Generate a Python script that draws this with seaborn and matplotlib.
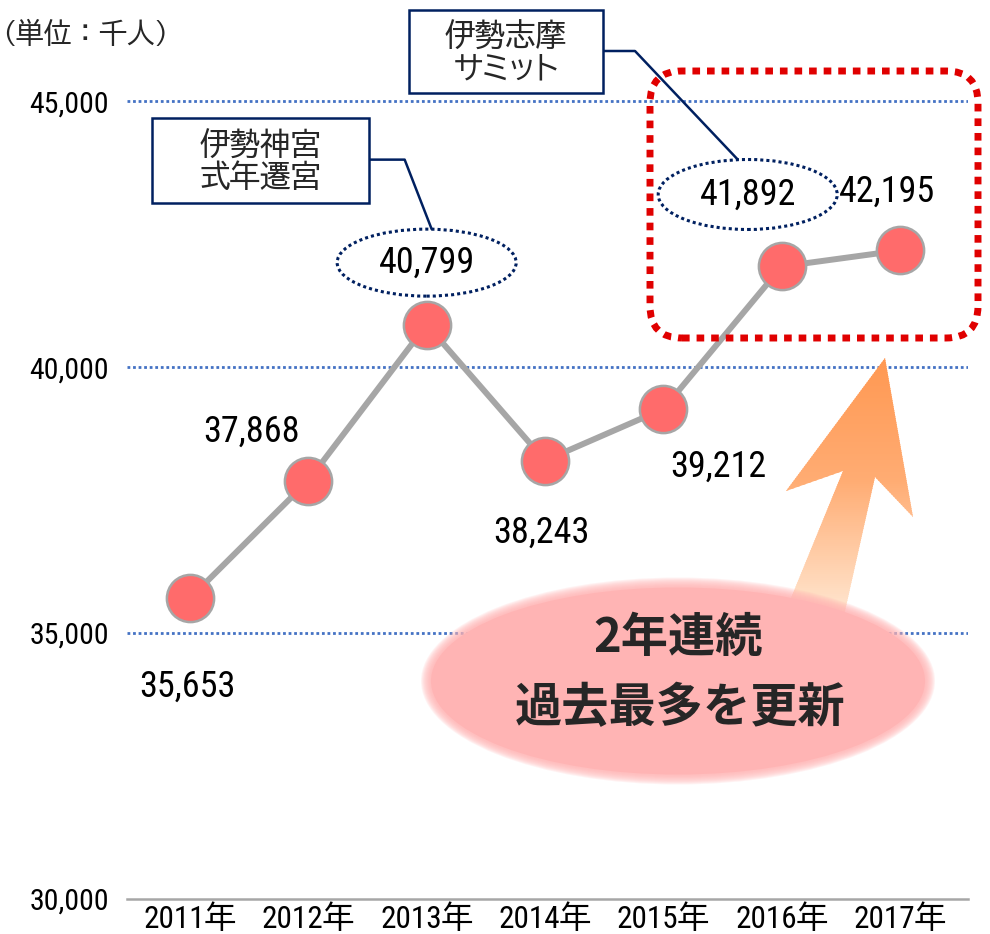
import numpy as np
import pandas as pd
import matplotlib
matplotlib.use('Agg')
import matplotlib.pyplot as plt
import seaborn as sns
from matplotlib.patches import Ellipse, Rectangle, FancyBboxPatch, Polygon
from matplotlib.transforms import IdentityTransform
from matplotlib.lines import Line2D

# ---------------- data ----------------
years = ['2011年', '2012年', '2013年', '2014年', '2015年', '2016年', '2017年']
visitors = [35653, 37868, 40799, 38243, 39212, 41892, 42195]
value_labels = ['35,653', '37,868', '40,799', '38,243', '39,212', '41,892', '42,195']
y_ticks = [30000, 35000, 40000, 45000]
y_tick_labels = ['30,000', '35,000', '40,000', '45,000']
unit_label = '(単位：千人)'
callout_2013 = '伊勢神宮\n式年遷宮'
callout_2016 = '伊勢志摩\nサミット'
headline = ['2年連続', '過去最多を更新']

# ---------------- style ----------------
W, H = 990, 934
sns.set_theme(style='white')
NUM_FONT = ['Roboto Condensed', 'BIZ UDPGothic', 'Noto Sans CJK JP', 'DejaVu Sans']
CJK_FONT = ['BIZ UDPGothic', 'Noto Sans CJK JP', 'DejaVu Sans']
MONO_CJK = ['BIZ UDGothic', 'Noto Sans CJK JP', 'DejaVu Sans']
BOLD_FONT = ['Noto Sans CJK JP', 'DejaVu Sans']
plt.rcParams['font.family'] = NUM_FONT
ID = IdentityTransform()

fig = plt.figure(figsize=(W / 100, H / 100), dpi=100)
fig.patch.set_facecolor('white')
ax = fig.add_axes([127 / W, 1 - 899 / H, (968 - 127) / W, (899 - 48) / H])
ax.set_facecolor('white')

x = np.arange(len(years))
df = pd.DataFrame({'x': x, 'visitors': visitors})
sns.lineplot(data=df, x='x', y='visitors', ax=ax, color='#A6A6A6', lw=4.3,
             marker='o', markersize=34, markerfacecolor='#FF6B6B',
             markeredgecolor='#A6A6A6', markeredgewidth=1.8, zorder=3)

ax.set_xlim(-0.532, 6.574)
ax.set_ylim(30000, 46000)
ax.set_xticks(x, years)
ax.set_yticks(y_ticks, y_tick_labels)
ax.set_xlabel('')
ax.set_ylabel('')
ax.tick_params(axis='x', length=0, pad=4, labelsize=22.5, labelcolor='black')
ax.tick_params(axis='y', length=0, pad=13, labelsize=21.5, labelcolor='black')
for s in ['left', 'top', 'right']:
    ax.spines[s].set_visible(False)
ax.spines['bottom'].set_color('#A6A6A6')
ax.spines['bottom'].set_linewidth(1.8)
ax.grid(False)
for yv in y_ticks[1:]:
    ax.axhline(yv, color='#4472C4', lw=2, linestyle=(0, (1, 1)), zorder=0.5)

# ---------------- value labels ----------------
# offsets (pixels, right / down) of each label from its marker
label_offsets = [(-3, 88), (-57, -49), (0, -62), (-4, 72), (55, 58), (-34, -72), (-13, -59)]
for i, (v, lab, (dx, dy)) in enumerate(zip(visitors, value_labels, label_offsets)):
    ax.annotate(lab, (i, v), xytext=(dx, -dy), textcoords='offset pixels',
                ha='center', va='center', fontsize=26, color='black', zorder=8)


def pt_px(i):
    X, Y = ax.transData.transform((i, visitors[i]))
    return X, H - Y


def add(p):
    ax.add_patch(p)
    return p


navy = '#002060'

# dotted ellipses around the highlighted values
ell = {}
for i, (w, h) in [(2, (179, 67)), (5, (179, 70))]:
    px, py = pt_px(i)
    cx, cy = px + label_offsets[i][0], py + label_offsets[i][1]
    ell[i] = (cx, cy, w, h)
    add(Ellipse((cx, H - cy), w, h, transform=ID, fill=False, ec=navy, lw=2.2,
                ls=(0, (1, 1)), zorder=6, clip_on=False))

# callout 1 (relative to 2013 point)
px, py = pt_px(2)
bx0, by0, bw, bh = px - 275, py - 207, 217, 85
add(Rectangle((bx0, H - by0 - bh), bw, bh, transform=ID, fc='white', ec=navy,
              lw=1.8, zorder=7, clip_on=False))
ax.text(bx0 + bw / 2, H - (by0 + bh / 2), callout_2013, transform=ID, ha='center',
        va='center', fontsize=22, family=CJK_FONT, linespacing=1.05, zorder=8)
cx, cy, w, h = ell[2]
ax.add_line(Line2D([bx0 + bw, bx0 + bw + 36, cx + 5], [H - (py - 165), H - (py - 165), H - (cy - h / 2)],
                   transform=ID, color=navy, lw=1.8, zorder=6.5, clip_on=False))

# callout 2 (fixed)
bx0, by0, bw, bh = 409, 10, 194, 83
add(Rectangle((bx0, H - by0 - bh), bw, bh, transform=ID, fc='white', ec=navy,
              lw=1.8, zorder=7, clip_on=False))
ax.text(bx0 + bw / 2, H - (by0 + bh / 2), callout_2016, transform=ID, ha='center',
        va='center', fontsize=22, family=CJK_FONT, linespacing=1.05, zorder=8)
cx, cy, w, h = ell[5]
ax.add_line(Line2D([bx0 + bw, 635, cx - 10], [H - 51, H - 51, H - (cy - h / 2)],
                   transform=ID, color=navy, lw=1.8, zorder=6.5, clip_on=False))

# red dotted rounded box
add(FancyBboxPatch((650, H - 338), 328, 267, boxstyle='round,pad=0,rounding_size=32',
                   transform=ID, fill=False, ec='#E00000', lw=5, ls=(0, (1.1, 1.0)),
                   zorder=5, clip_on=False))

# gradient arrow
arrow_pts = [(885, 358), (913, 517), (875, 477), (843, 620), (782, 620), (843, 471), (786, 491)]
poly = Polygon([(a, H - b) for a, b in arrow_pts], closed=True, transform=ID)
stops_y = [358, 480, 600]
stops_c = [np.array([255, 152, 82]), np.array([255, 172, 115]), np.array([255, 225, 200])]
for yy in range(354, 622, 2):
    if yy <= stops_y[1]:
        t = (yy - stops_y[0]) / (stops_y[1] - stops_y[0])
        c = stops_c[0] + (stops_c[1] - stops_c[0]) * max(t, 0)
    else:
        t = min((yy - stops_y[1]) / (stops_y[2] - stops_y[1]), 1)
        c = stops_c[1] + (stops_c[2] - stops_c[1]) * t
    r = Rectangle((770, H - yy - 2.5), 160, 3, transform=ID, fc=c / 255, ec='none', zorder=2.5)
    r.set_clip_path(poly)
    ax.add_patch(r)

# soft pink ellipse
ecx, ecy, ew, eh = 678, 681, 494, 187
for k in range(10, 0, -1):
    add(Ellipse((ecx, H - ecy), ew + 2 * k, eh + 2 * k, transform=ID, fc='#FFB4B4',
                ec='none', alpha=0.16, zorder=3.5, clip_on=False))
add(Ellipse((ecx, H - ecy), ew, eh, transform=ID, fc='#FFB4B4', ec='none',
            zorder=3.6, clip_on=False))
ax.text(678, H - 638, headline[0], transform=ID, ha='center', va='center', fontsize=34,
        fontweight='bold', family=BOLD_FONT, zorder=8)
ax.text(680, H - 708, headline[1], transform=ID, ha='center', va='center', fontsize=34,
        fontweight='bold', family=BOLD_FONT, zorder=8)

# unit label
ax.text(2, H - 32, unit_label, transform=ID, ha='left', va='center', fontsize=20,
        family=MONO_CJK, zorder=8)

fig.savefig('out.png', dpi=100, facecolor='white')
